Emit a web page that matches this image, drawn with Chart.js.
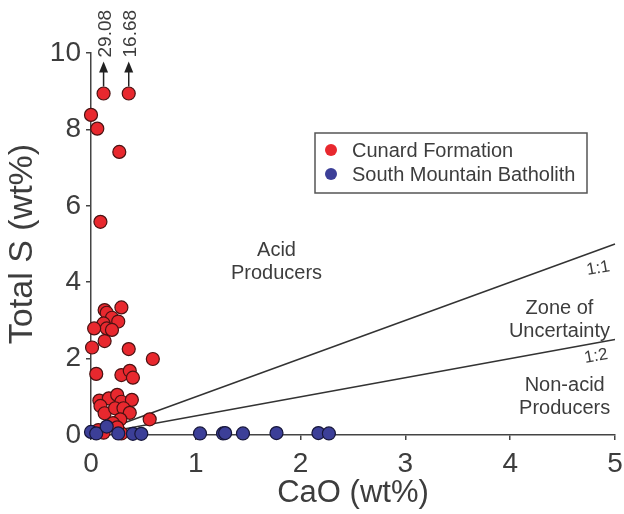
<!DOCTYPE html>
<html>
<head>
<meta charset="utf-8">
<script src="https://cdn.jsdelivr.net/npm/chart.js@4/dist/chart.umd.min.js"></script>
<style>
  html, body { margin: 0; padding: 0; background: #ffffff; }
  #wrap { width: 624px; height: 514px; }
</style>
</head>
<body>
<div id="wrap"><canvas id="c" width="624" height="514"></canvas></div>
<script>
// ---- Data ----
const cunardLabel = 'Cunard Formation';
const cunardCaO = [0.12, 0.36, 0.00, 0.06, 0.27, 0.09,
  0.13, 0.15, 0.29, 0.20, 0.26, 0.12, 0.15, 0.20, 0.03, 0.13, 0.01, 0.36, 0.59,
  0.05, 0.29, 0.37, 0.40,
  0.08, 0.17, 0.25, 0.29, 0.39, 0.09, 0.13, 0.23, 0.31, 0.37, 0.28, 0.56, 0.21,
  0.07, 0.12, 0.29, 0.25];
const cunardS = [8.94, 8.94, 8.38, 8.02, 7.41, 5.58,
  3.27, 3.20, 3.34, 3.07, 2.97, 2.92, 2.79, 2.75, 2.79, 2.46, 2.29, 2.25, 1.99,
  1.60, 1.57, 1.68, 1.50,
  0.90, 0.96, 1.05, 0.87, 0.92, 0.76, 0.57, 0.70, 0.70, 0.58, 0.41, 0.41, 0.31,
  0.13, 0.06, 0.04, 0.20];

const smbLabel = 'South Mountain Batholith';
const smbCaO = [0.00, 0.05, 0.15, 0.26, 0.40, 0.48, 1.04, 1.26, 1.28, 1.45, 1.77, 2.17, 2.27];
const smbS   = [0.08, 0.04, 0.22, 0.04, 0.03, 0.03, 0.04, 0.04, 0.05, 0.04, 0.05, 0.05, 0.04];

// off-scale samples (plotted at top with arrows)
const offscaleCaO = [0.12, 0.36];
const offscaleS = ['29.08', '16.68'];

// reference lines (S : CaO ratios)
const ratioLabels = ['1:1', '1:2'];
const ratioValues = [1, 0.5];
const lineCaO = [0, 5];

const xTicks = [0, 1, 2, 3, 4, 5];
const yTicks = [0, 2, 4, 6, 8, 10];

const fieldLabels = [
  { text: ['Acid', 'Producers'], x: 1.77, y: 4.53 },
  { text: ['Zone of', 'Uncertainty'], x: 4.47, y: 3.02 },
  { text: ['Non-acid', 'Producers'], x: 4.52, y: 1.0 }
];
const ratioLabelPos = [{ x: 4.84, y: 4.36 }, { x: 4.82, y: 2.06 }];

// ---- Build datasets ----
const toPts = (xs, ys) => xs.map((v, i) => ({ x: v, y: ys[i] }));
const FONT = '"Liberation Sans", Arial, Helvetica, sans-serif';
const TXT = '#3d3d3d';
const RED = '#e8282e', RED_B = '#4a1212';
const BLUE = '#3c3f98', BLUE_B = '#16163a';

const datasets = [];
ratioValues.forEach((r, i) => {
  datasets.push({
    type: 'line', label: ratioLabels[i],
    data: lineCaO.map(x => ({ x: x, y: x * r })),
    borderColor: '#333333', borderWidth: 1.5, pointRadius: 0,
    fill: false, order: 3, clip: false
  });
});
datasets.push({
  label: cunardLabel, data: toPts(cunardCaO, cunardS),
  backgroundColor: RED, borderColor: RED_B, borderWidth: 1.2,
  pointRadius: 6.5, order: 2, clip: false
});
datasets.push({
  label: smbLabel, data: toPts(smbCaO, smbS),
  backgroundColor: BLUE, borderColor: BLUE_B, borderWidth: 1.2,
  pointRadius: 6.5, order: 1, clip: false
});

const annot = {
  id: 'annot',
  afterDraw(chart) {
    const ctx = chart.ctx, xs = chart.scales.x, ys = chart.scales.y;
    ctx.save();
    ctx.fillStyle = TXT;
    ctx.textAlign = 'center';
    ctx.textBaseline = 'middle';
    // field labels
    ctx.font = '20px ' + FONT;
    fieldLabels.forEach(f => {
      const px = xs.getPixelForValue(f.x), py = ys.getPixelForValue(f.y);
      ctx.fillText(f.text[0], px, py - 11.5);
      ctx.fillText(f.text[1], px, py + 11.5);
    });
    // ratio labels
    ctx.font = '17px ' + FONT;
    ratioLabels.forEach((t, i) => {
      const px = xs.getPixelForValue(ratioLabelPos[i].x), py = ys.getPixelForValue(ratioLabelPos[i].y);
      ctx.save();
      ctx.translate(px, py);
      ctx.rotate(-10 * Math.PI / 180);
      ctx.fillText(t, 0, 0);
      ctx.restore();
    });
    // off-scale arrows
    offscaleCaO.forEach((c, i) => {
      const px = xs.getPixelForValue(c), py = ys.getPixelForValue(8.94);
      ctx.strokeStyle = '#222';
      ctx.lineWidth = 1.5;
      ctx.beginPath();
      ctx.moveTo(px, py - 7);
      ctx.lineTo(px, py - 22);
      ctx.stroke();
      ctx.fillStyle = '#222';
      ctx.beginPath();
      ctx.moveTo(px, py - 32);
      ctx.lineTo(px - 4.5, py - 21);
      ctx.lineTo(px + 4.5, py - 21);
      ctx.closePath();
      ctx.fill();
      ctx.save();
      ctx.translate(px + 2, py - 36);
      ctx.rotate(-Math.PI / 2);
      ctx.fillStyle = TXT;
      ctx.font = '19px ' + FONT;
      ctx.textAlign = 'left';
      ctx.textBaseline = 'middle';
      ctx.fillText(offscaleS[i], 0, 0);
      ctx.restore();
    });
    // legend
    const lx = 315, ly = 133, lw = 272, lh = 60;
    ctx.fillStyle = '#ffffff';
    ctx.fillRect(lx, ly, lw, lh);
    ctx.strokeStyle = '#555';
    ctx.lineWidth = 1.5;
    ctx.strokeRect(lx, ly, lw, lh);
    const items = [[cunardLabel, RED, RED_B], [smbLabel, BLUE, BLUE_B]];
    items.forEach((it, i) => {
      const cy = ly + 17 + i * 24;
      ctx.beginPath();
      ctx.arc(lx + 16, cy, 6, 0, Math.PI * 2);
      ctx.fillStyle = it[1];
      ctx.fill();
      ctx.fillStyle = TXT;
      ctx.font = '20px ' + FONT;
      ctx.textAlign = 'left';
      ctx.textBaseline = 'middle';
      ctx.fillText(it[0], lx + 37, cy + 1);
    });
    ctx.restore();
  }
};

new Chart(document.getElementById('c'), {
  type: 'scatter',
  data: { datasets: datasets },
  options: {
    responsive: false,
    animation: false,
    layout: { padding: { left: 0, top: 53, right: 9, bottom: 0 } },
    plugins: { legend: { display: false }, tooltip: { enabled: false } },
    scales: {
      x: {
        type: 'linear', min: 0, max: 5,
        afterFit(s) { s.height = 79; s.paddingLeft = 0; s.paddingRight = 0; },
        afterBuildTicks(s) { s.ticks = xTicks.map(v => ({ value: v })); },
        grid: { display: true, drawOnChartArea: false, drawTicks: true, tickLength: 5, color: '#444', lineWidth: 1.5 },
        border: { display: true, color: '#444', width: 1.5 },
        ticks: { color: TXT, font: { family: FONT, size: 28 }, padding: 7 },
        title: { display: true, text: 'CaO (wt%)', color: TXT, font: { family: FONT, size: 31 }, padding: { top: 2, bottom: 2 } }
      },
      y: {
        type: 'linear', min: 0, max: 10,
        afterFit(s) { s.width = 91; s.paddingTop = 0; s.paddingBottom = 0; },
        afterBuildTicks(s) { s.ticks = yTicks.map(v => ({ value: v })); },
        grid: { display: true, drawOnChartArea: false, drawTicks: true, tickLength: 5, color: '#444', lineWidth: 1.5 },
        border: { display: true, color: '#444', width: 1.5 },
        ticks: { color: TXT, font: { family: FONT, size: 28 }, padding: 5 },
        title: { display: true, text: 'Total S (wt%)', color: TXT, font: { family: FONT, size: 34 }, padding: { top: 2, bottom: 2 } }
      }
    }
  },
  plugins: [annot]
});
</script>
</body>
</html>
